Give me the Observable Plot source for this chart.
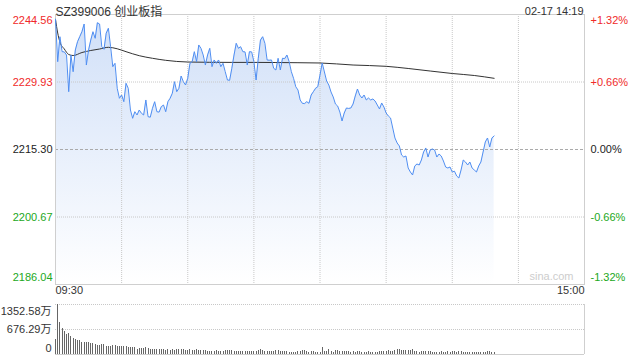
<!DOCTYPE html>
<html><head><meta charset="utf-8">
<script src="https://cdn.jsdelivr.net/npm/d3@7"></script>
<script src="https://cdn.jsdelivr.net/npm/@observablehq/plot@0.6"></script>
<style>
body{margin:0;background:#fff;}
#wrap{position:relative;width:640px;height:360px;overflow:hidden;}
#wrap svg{position:absolute;left:0;}
</style></head><body><div id="wrap"></div>
<script>
const title = "SZ399006 创业板指";
const stamp = "02-17 14:19";
const timeLabels = ["09:30", "15:00"];
const sessionMinutes = 240;
const gridMinutes = [30, 60, 90, 120, 150, 180, 210];
const priceTicks = [2186.04, 2200.67, 2215.30, 2229.93, 2244.56];
const pctLabels = ["-1.32%", "-0.66%", "0.00%", "+0.66%", "+1.32%"];
const volTicks = [0, 676.29, 1352.58];
const volLabels = ["0", "676.29万", "1352.58万"];

const prices = [
2243.52,2234.33,2239.75,2236.50,2236.45,2235.78,2227.83,2235.78,2232.16,2236.87,
2238.66,2239.75,2240.83,2242.50,2233.61,2236.87,2239.03,2240.83,2239.40,2242.78,
2242.50,2237.58,2237.02,2240.49,2241.57,2237.58,2233.25,2233.98,2228.56,2226.40,
2227.11,2225.66,2229.65,2228.56,2223.86,2222.06,2223.49,2222.78,2223.86,2223.15,
2222.78,2226.03,2222.41,2222.30,2224.23,2225.66,2223.49,2223.40,2224.58,2224.94,
2223.49,2225.66,2226.40,2227.48,2230.00,2227.83,2228.56,2231.23,2230.00,2229.28,
2230.73,2233.98,2234.33,2236.50,2234.33,2237.95,2237.23,2235.78,2233.61,2235.78,
2237.23,2233.25,2234.70,2233.98,2234.70,2233.25,2233.98,2232.16,2230.36,2230.30,
2232.90,2235.78,2238.32,2237.23,2237.58,2236.50,2236.45,2233.61,2236.50,2236.45,
2234.33,2230.36,2235.07,2239.03,2239.75,2238.32,2234.70,2234.65,2234.70,2232.90,
2232.53,2235.07,2232.53,2235.07,2235.00,2235.78,2234.33,2232.16,2230.73,2228.91,
2228.20,2226.03,2225.31,2225.25,2225.66,2225.31,2227.11,2227.83,2228.56,2228.91,
2231.45,2234.05,2232.10,2230.15,2229.28,2227.76,2226.68,2225.16,2224.73,2223.43,
2221.48,2223.21,2224.29,2224.20,2224.29,2225.16,2226.90,2228.41,2227.11,2226.46,
2227.11,2226.03,2226.46,2226.03,2226.25,2225.81,2224.94,2224.08,2225.38,2224.51,
2223.21,2222.56,2222.13,2219.96,2217.79,2216.71,2216.06,2214.11,2213.67,2213.89,
2211.29,2210.42,2209.77,2211.72,2212.16,2211.94,2213.02,2214.76,2215.63,2213.67,
2215.19,2215.41,2215.19,2213.67,2214.32,2213.89,2212.81,2211.51,2211.29,2211.51,
2210.42,2210.60,2209.56,2209.12,2210.86,2213.02,2212.59,2211.94,2212.59,2211.29,
2210.86,2210.42,2211.72,2212.59,2214.76,2216.93,2217.79,2215.84,2217.79,2218.23
];

const avgMinutes = [0,1,2,4,6,8,12,16,20,24,28,32,38,44,50,60,70,80,90,100,110,120,135,150,160,170,180,190,199];
const avgValues = [2243.52,2240.55,2238.60,2237.08,2235.89,2235.67,2236.32,2236.76,2237.08,2237.45,2237.13,2236.50,2235.63,2235.07,2234.63,2234.26,2234.20,2234.18,2234.18,2234.15,2234.11,2234.05,2233.61,2233.33,2232.86,2232.31,2231.77,2231.34,2230.73];

const volumes = [
406,1352.58,857,703,613,541,568,478,424,406,
379,379,325,325,325,316,298,298,271,244,
253,271,271,216,216,226,244,244,216,216,
216,216,216,189,189,189,189,144,171,171,
171,189,162,144,126,126,144,126,126,126,
108,135,117,135,108,144,144,144,126,108,
108,126,108,108,135,108,108,108,108,90,
90,90,90,108,90,81,81,108,108,108,
108,90,90,90,90,90,90,90,90,90,
90,90,117,135,117,90,81,81,81,81,
108,117,90,90,90,90,63,63,63,63,
90,90,117,117,90,63,90,90,63,45,
54,198,90,90,135,90,63,108,117,90,
90,90,90,90,63,90,63,90,90,63,
63,63,90,63,63,63,63,90,90,90,
90,117,90,90,117,135,135,117,117,117,
117,117,135,90,90,63,90,90,90,90,
90,63,63,63,63,90,63,63,90,63,
90,90,63,90,90,63,63,63,63,63,
63,63,63,63,63,63,90,90,63,63
];

const FONT = '"Liberation Sans", Arial, "Noto Sans CJK SC", sans-serif';
const RED = "#f02a2a", GREEN = "#22a822", DARK = "#222";
const prevClose = priceTicks[2];

const priceRows = prices.map((p, i) => ({t: i, p}));
const avgRows = avgMinutes.map((t, i) => ({t, v: avgValues[i]}));
const volRows = volumes.map((v, i) => ({t: i, v}));
const tickRows = priceTicks.map((v, i) => ({
  v, label: v.toFixed(2), pct: pctLabels[i],
  color: v > prevClose ? RED : v < prevClose ? GREEN : DARK,
  dy: i === priceTicks.length - 1 ? 6 : i === 0 ? -7 : 0
}));
const volTickRows = volTicks.map((v, i) => ({v, label: volLabels[i], dy: i === volTicks.length - 1 ? 7 : i === 0 ? -6 : 0}));

const yMin = priceTicks[0], yMax = priceTicks[priceTicks.length - 1];

function labelMarks(rows, opts) {
  return [-7, 0, 6, 7, -6].filter((d, k, a) => a.indexOf(d) === k).map(dy =>
    Plot.text(rows.filter(r => r.dy === dy), {...opts(dy)}));
}

const main = Plot.plot({
  width: 640, height: 300,
  marginTop: 14, marginBottom: 16, marginLeft: 55, marginRight: 56,
  x: {domain: [0, sessionMinutes], axis: null},
  y: {domain: [yMin, yMax], axis: null},
  color: {type: "identity"},
  style: {fontFamily: FONT, background: "transparent", color: DARK},
  marks: [
    Plot.areaY(priceRows, {x: "t", y1: yMin, y2: "p", fill: "url(#fillGrad)"}),
    Plot.ruleX(gridMinutes, {stroke: "#c8c8c8", strokeDasharray: "1,1"}),
    Plot.ruleY([priceTicks[1], priceTicks[3]], {stroke: "#c8c8c8", strokeDasharray: "1,1"}),
    Plot.ruleY([prevClose], {stroke: "#aaa", strokeDasharray: "3,2"}),
    Plot.frame({stroke: "#cfcfcf"}),
    Plot.line(avgRows, {x: "t", y: "v", stroke: "#333", strokeWidth: 1, curve: "monotone-x"}),
    Plot.line(priceRows, {x: "t", y: "p", stroke: "#4f8ef2", strokeWidth: 1}),
    ...[-7, 0, 6].map(dy => Plot.text(tickRows.filter(r => r.dy === dy), {
      y: "v", text: "label", fill: "color", frameAnchor: "left", textAnchor: "end", dx: -3, dy, fontSize: 11})),
    ...[-7, 0, 6].map(dy => Plot.text(tickRows.filter(r => r.dy === dy), {
      y: "v", text: "pct", fill: "color", frameAnchor: "right", textAnchor: "start", dx: 6, dy, fontSize: 11})),
    Plot.text([title], {text: d => d, frameAnchor: "top-left", textAnchor: "start", dy: -7, fontSize: 12, fill: "#333"}),
    Plot.text([stamp], {text: d => d, frameAnchor: "top-right", textAnchor: "end", dx: -1, dy: -7, fontSize: 11, fill: "#333"}),
    Plot.text([timeLabels[0]], {text: d => d, frameAnchor: "bottom-left", textAnchor: "start", dy: 9, fontSize: 11, fill: "#333"}),
    Plot.text([timeLabels[1]], {text: d => d, frameAnchor: "bottom-right", textAnchor: "end", dy: 9, fontSize: 11, fill: "#333"}),
    Plot.text(["sina.com"], {text: d => d, frameAnchor: "bottom-right", textAnchor: "end", dx: -11, dy: -5, fontSize: 11, fill: "#cdcdcd"})
  ]
});

const defs = d3.select(main).insert("defs", ":first-child");
const grad = defs.append("linearGradient").attr("id", "fillGrad")
  .attr("x1", 0).attr("y1", 0).attr("x2", 0).attr("y2", 1);
grad.append("stop").attr("offset", 0).attr("stop-color", "#d1e0f8");
grad.append("stop").attr("offset", 1).attr("stop-color", "#ffffff");
main.style.top = "0px";

const vol = Plot.plot({
  width: 640, height: 60,
  marginTop: 4, marginBottom: 6, marginLeft: 55, marginRight: 56,
  x: {domain: [0, sessionMinutes], axis: null},
  y: {domain: [0, volTicks[volTicks.length - 1]], axis: null},
  style: {fontFamily: FONT, background: "transparent", color: DARK},
  marks: [
    Plot.ruleY(volTicks.slice(1), {stroke: "#c8c8c8", strokeDasharray: "1,1"}),
    Plot.ruleY([0], {stroke: "#cfcfcf"}),
    Plot.ruleX([sessionMinutes], {y1: 0, y2: volTicks[volTicks.length - 1], stroke: "#cfcfcf"}),
    Plot.ruleX(volRows, {x: "t", y1: 0, y2: "v", stroke: "#666", shapeRendering: "crispEdges"}),
    ...[-6, 0, 7].map(dy => Plot.text(volTickRows.filter(r => r.dy === dy), {
      y: "v", text: "label", frameAnchor: "left", textAnchor: "end", dx: -4, dy, fontSize: 11, fill: "#333"}))
  ]
});
vol.style.top = "300px";

document.getElementById("wrap").append(main, vol);
</script></body></html>
